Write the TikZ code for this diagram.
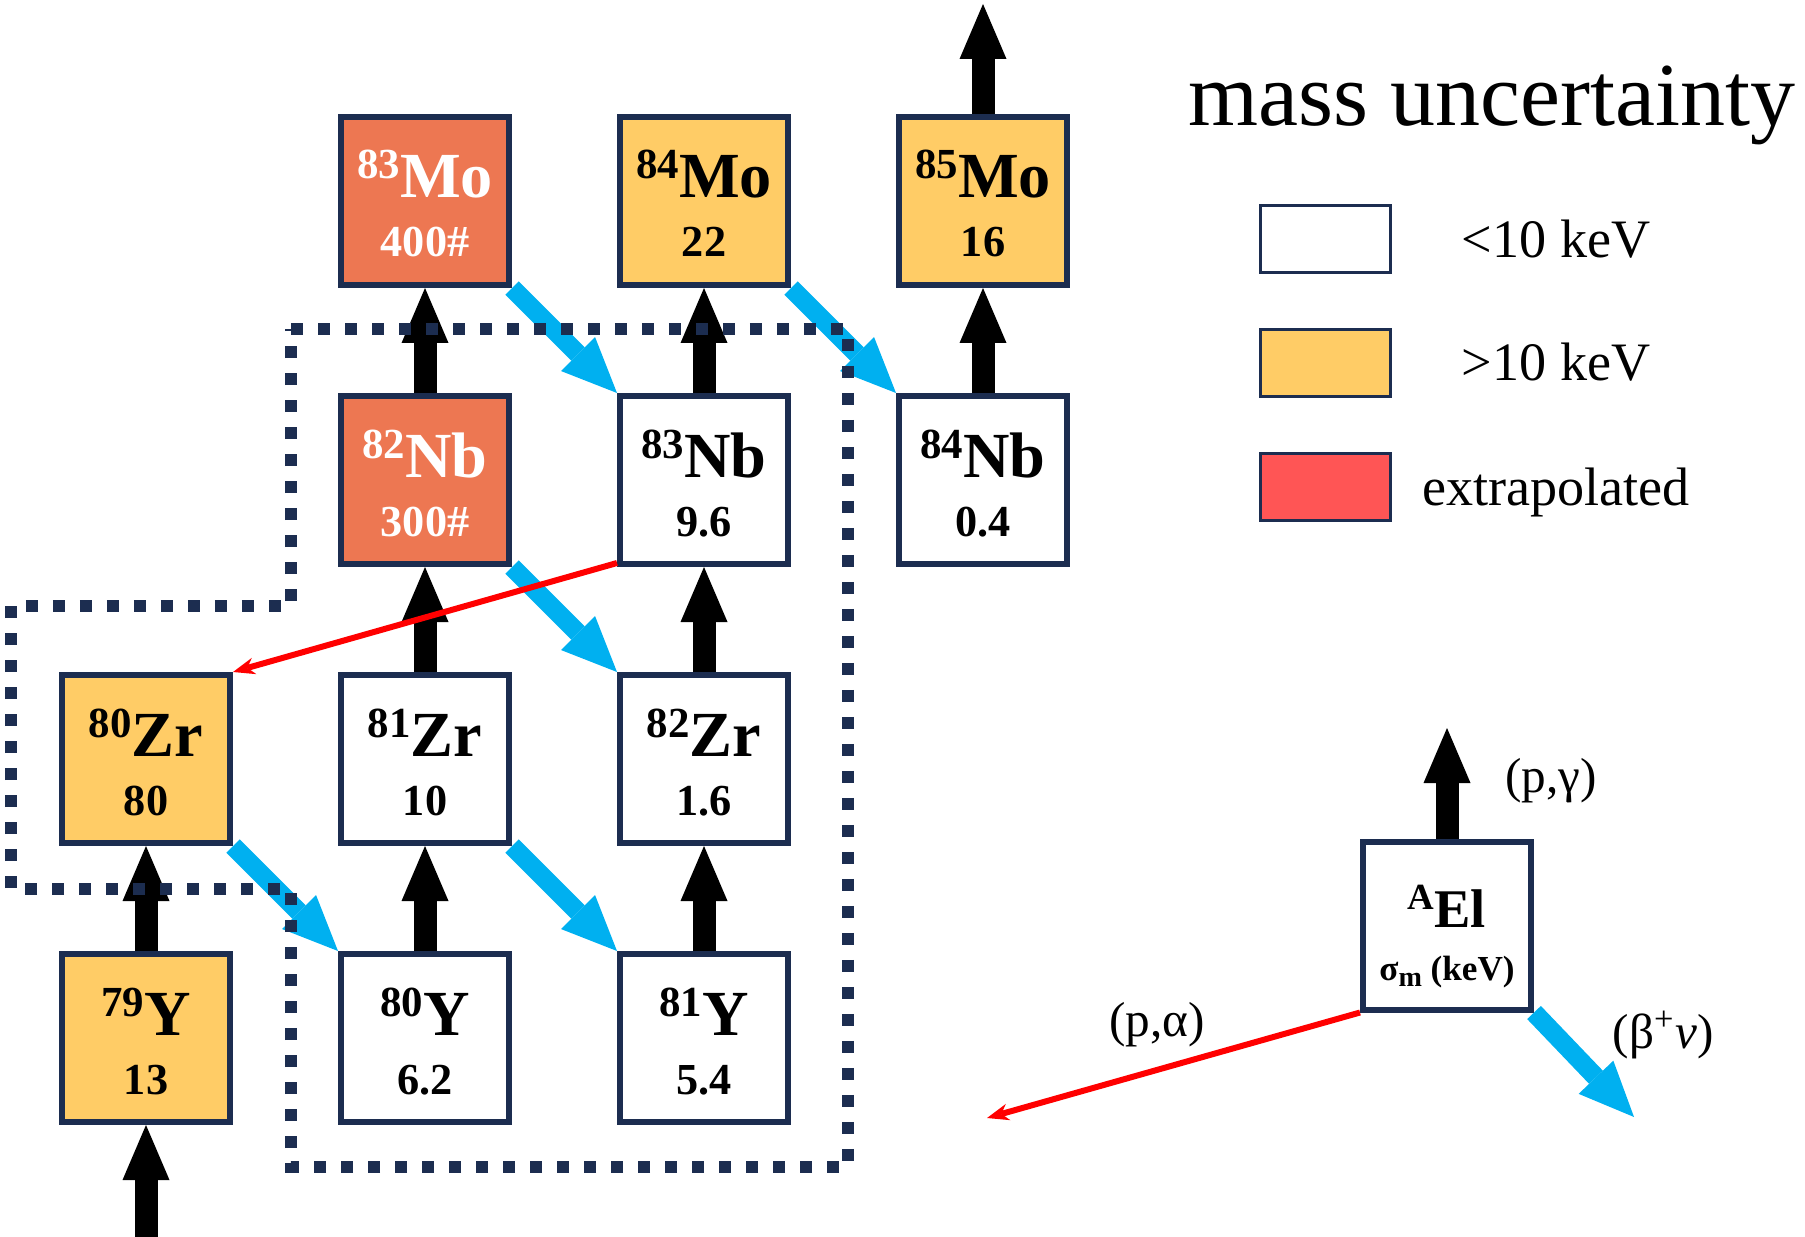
\documentclass[tikz,border=0pt]{standalone}
\usepackage{fontspec}
\setmainfont{Liberation Serif}
\usetikzlibrary{arrows.meta,positioning}

\definecolor{navy}{RGB}{28,45,80}
\definecolor{gold}{RGB}{255,204,102}
\definecolor{extra}{RGB}{237,119,82}
\definecolor{legred}{RGB}{255,85,85}
\definecolor{betablue}{RGB}{0,176,240}

% mass number as a raised prefix
\newcommand{\iso}[2]{\raisebox{0.19cm}{\fontsize{12.2}{13}\selectfont #1}#2}

\tikzset{
    nuc/.style={draw=navy, line width=0.06cm, minimum size=1.68cm, inner sep=0pt},
    nucw/.style={nuc, fill=white},
    nucy/.style={nuc, fill=gold},
    nucr/.style={nuc, fill=extra},
    symtxt/.style={anchor=base, inner sep=0pt, font=\fontsize{18.3}{21}\selectfont\bfseries},
    valtxt/.style={anchor=base, inner sep=0pt, font=\fontsize{12.6}{15}\selectfont\bfseries},
    pgam/.style={line width=0.23cm, -{Triangle[width=0.47cm,length=0.55cm,line width=0pt]}},
    beta/.style={betablue, line width=0.19cm, -{Triangle[width=0.48cm,length=0.55cm,line width=0pt]}},
    palf/.style={red, line width=0.06cm, -{Stealth[length=0.22cm,width=0.17cm,line width=0pt]}},
    legbox/.style={draw=navy, line width=0.03cm, minimum width=1.30cm, minimum height=0.67cm, inner sep=0pt},
    legtxt/.style={anchor=base, inner sep=0pt, font=\fontsize{15.4}{18}\selectfont},
    reac/.style={inner sep=0pt, font=\fontsize{14}{17}\selectfont},
}

\begin{document}
\begin{tikzpicture}

    \useasboundingbox (0,0) rectangle (18.05,-12.36);

    % Nuclide boxes
    \foreach \nm/\x/\y/\st/\tc/\A/\el/\val in {
        y79/1.46/-10.38/nucy/black/79/Y/13,
        zr80/1.46/-7.59/nucy/black/80/Zr/80,
        y80/4.25/-10.38/nucw/black/80/Y/6.2,
        zr81/4.25/-7.59/nucw/black/81/Zr/10,
        nb82/4.25/-4.80/nucr/white/82/Nb/300\#,
        mo83/4.25/-2.01/nucr/white/83/Mo/400\#,
        y81/7.04/-10.38/nucw/black/81/Y/5.4,
        zr82/7.04/-7.59/nucw/black/82/Zr/1.6,
        nb83/7.04/-4.80/nucw/black/83/Nb/9.6,
        mo84/7.04/-2.01/nucy/black/84/Mo/22,
        nb84/9.83/-4.80/nucw/black/84/Nb/0.4,
        mo85/9.83/-2.01/nucy/black/85/Mo/16} {
        \node[\st] (\nm) at (\x,\y) {};
        \node[symtxt, text=\tc] (\nm-s) at ([yshift=0.03cm]\nm.center) {\iso{\A}{\el}};
        \node[valtxt, text=\tc] (\nm-v) at ([yshift=-0.56cm]\nm.center) {\val};
    }

    % (p,gamma) captures
    \foreach \a/\b in {y79/zr80, y80/zr81, zr81/nb82, nb82/mo83,
                       y81/zr82, zr82/nb83, nb83/mo84, nb84/mo85} {
        \draw[pgam] (\a) -- (\b);
    }
    \coordinate (top) at (9.83,-0.04);
    \coordinate (bot) at (1.46,-12.45);
    \draw[pgam] (mo85) -- (top);
    \draw[pgam] (bot) -- (y79);

    % beta decays
    \foreach \a/\b in {mo83/nb83, mo84/nb84, nb82/zr82, zr80/y80, zr81/y81} {
        \draw[beta] (\a.south east) -- (\b.north west);
    }

    % (p,alpha)
    \draw[palf] ([yshift=0.04cm]nb83.south west) -- (zr80.north east);

    % Region boundary
    \draw[navy, line width=0.12cm, dash pattern=on 0.12cm off 0.15cm]
        (2.91,-3.29) -- (8.48,-3.29) -- (8.48,-11.67) -- (2.91,-11.67)
        -- (2.91,-8.89) -- (0.11,-8.89) -- (0.11,-6.06) -- (2.91,-6.06) -- cycle;

    % Legend
    \node[anchor=base, inner sep=0pt, font=\fontsize{25.6}{30}\selectfont] (title) at (14.92,-1.26) {mass uncertainty};
    \node[legbox, fill=white] (lw) at (13.25,-2.39) {};
    \node[legbox, fill=gold] (ly) at (13.25,-3.63) {};
    \node[legbox, fill=legred] (lr) at (13.25,-4.87) {};
    \node[legtxt] (lwt) at (15.56,-2.58) {<10 keV};
    \node[legtxt] (lyt) at (15.56,-3.80) {>10 keV};
    \node[legtxt] (lrt) at (15.56,-5.05) {extrapolated};

    % Key box with the three reactions
    \node[nucw] (key) at (14.47,-9.255) {};
    \node[symtxt, font=\fontsize{15.5}{18}\selectfont\bfseries] (key-s) at ([yshift=-0.015cm]key.center)
        {\raisebox{0.18cm}{\fontsize{10.5}{12}\selectfont A}El};
    \node[valtxt, font=\fontsize{10}{12}\selectfont\bfseries] (key-v) at ([yshift=-0.55cm]key.center)
        {σ\raisebox{-0.06cm}{\fontsize{8}{9}\selectfont m} (keV)};
    \coordinate (kup) at (14.47,-7.28);
    \coordinate (kleft) at (9.87,-11.18);
    \coordinate (kright) at (16.34,-11.17);
    \draw[pgam] (key) -- (kup);
    \draw[palf] (key.south west) -- (kleft);
    \draw[beta] (key.south east) -- (kright);
    \node[reac] (lblpg) at (15.51,-7.81) {(p,γ)};
    \node[reac] (lblpa) at (11.57,-10.25) {(p,α)};
    \node[reac] (lblbn) at (16.63,-10.35) {(β\textsuperscript{+}\textit{ν})};

\end{tikzpicture}
\end{document}
